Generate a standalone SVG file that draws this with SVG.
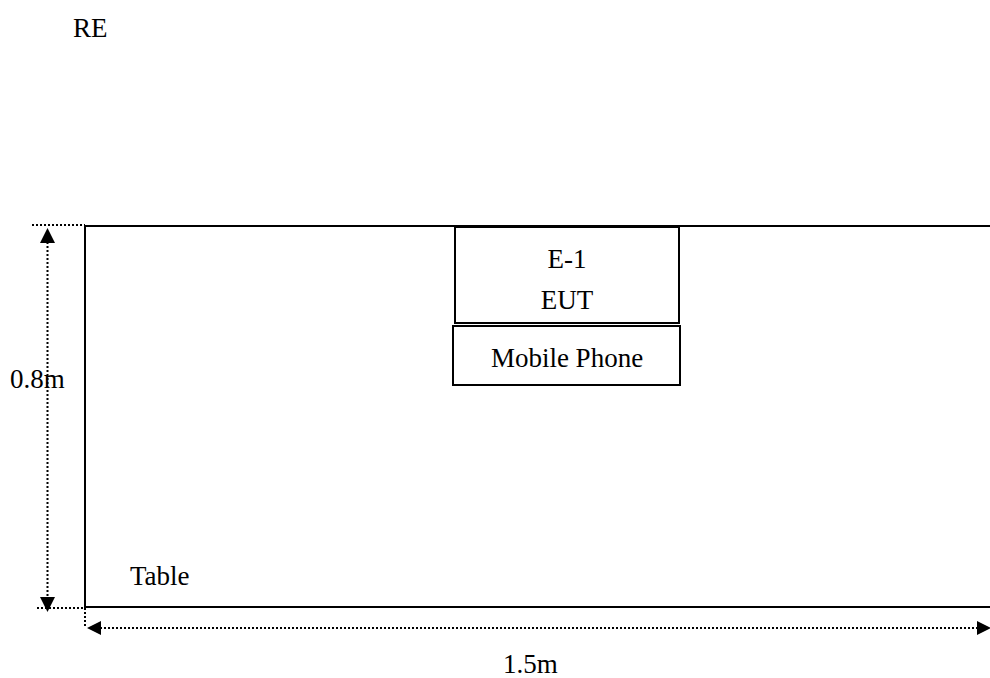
<svg xmlns="http://www.w3.org/2000/svg" width="990" height="678" viewBox="0 0 990 678">
<style>
text{font-family:"Liberation Serif","Times New Roman",serif;fill:#000;font-size:27px}
.solid{fill:none;stroke:#000;stroke-width:2}
.dot{fill:none;stroke:#000;stroke-width:2;stroke-dasharray:2 2}
.head{fill:#000;stroke:none}
</style>
<rect width="990" height="678" fill="#fff"/>
<text x="73" y="37">RE</text>
<g id="table">
<path class="solid" d="M85 226 H990 M85 226 V607 H990"/>
<text x="130" y="585">Table</text>
</g>
<g id="eut">
<rect class="solid" x="455" y="227" width="224" height="96"/>
<text x="567" y="268" text-anchor="middle">E-1</text>
<text x="567" y="309" text-anchor="middle">EUT</text>
</g>
<g id="phone">
<rect class="solid" x="453" y="326" width="227" height="59"/>
<text x="567" y="367" text-anchor="middle">Mobile Phone</text>
</g>
<g id="connectors">
<path class="dot" d="M32 225 H85 M37 608 H85 M85 608 V628"/>
<path class="dot" d="M47.5 242 V597"/>
<path class="head" d="M47.5 228 L40 243 L55 243 Z"/>
<path class="head" d="M47.5 612 L40 597 L55 597 Z"/>
<path class="dot" d="M100 628 H978"/>
<path class="head" d="M87 628 L101 621 L101 635 Z"/>
<path class="head" d="M991 628 L977 621 L977 635 Z"/>
</g>
<text x="10" y="388">0.8m</text>
<text x="503" y="673">1.5m</text>
</svg>
